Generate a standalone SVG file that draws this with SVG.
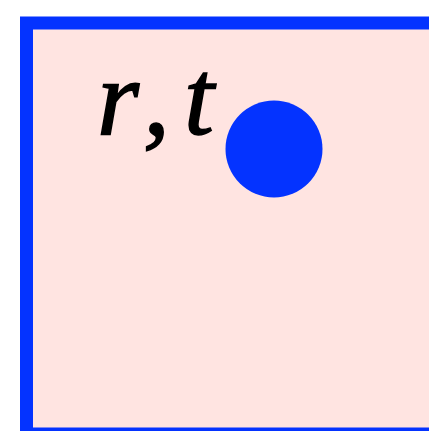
<svg xmlns="http://www.w3.org/2000/svg" width="429" height="431" viewBox="0 0 429 431">
<style>
.frame{fill:#ffe4e1;stroke:#0433ff;stroke-width:13}
.dot{fill:#0433ff}
.lbl{font-family:"Liberation Serif",serif;font-style:italic;font-size:108px;fill:#000;stroke:#000;stroke-width:1.5}
</style>
<rect width="429" height="431" fill="#fff"/>
<g id="frame"><rect class="frame" x="26.5" y="23" width="500" height="411"/></g>
<g id="point"><circle class="dot" cx="274" cy="149" r="48.5"/></g>
<g id="label"><text class="lbl" y="134"><tspan x="97">r</tspan><tspan x="143">,</tspan><tspan x="184">t</tspan></text></g>
</svg>
